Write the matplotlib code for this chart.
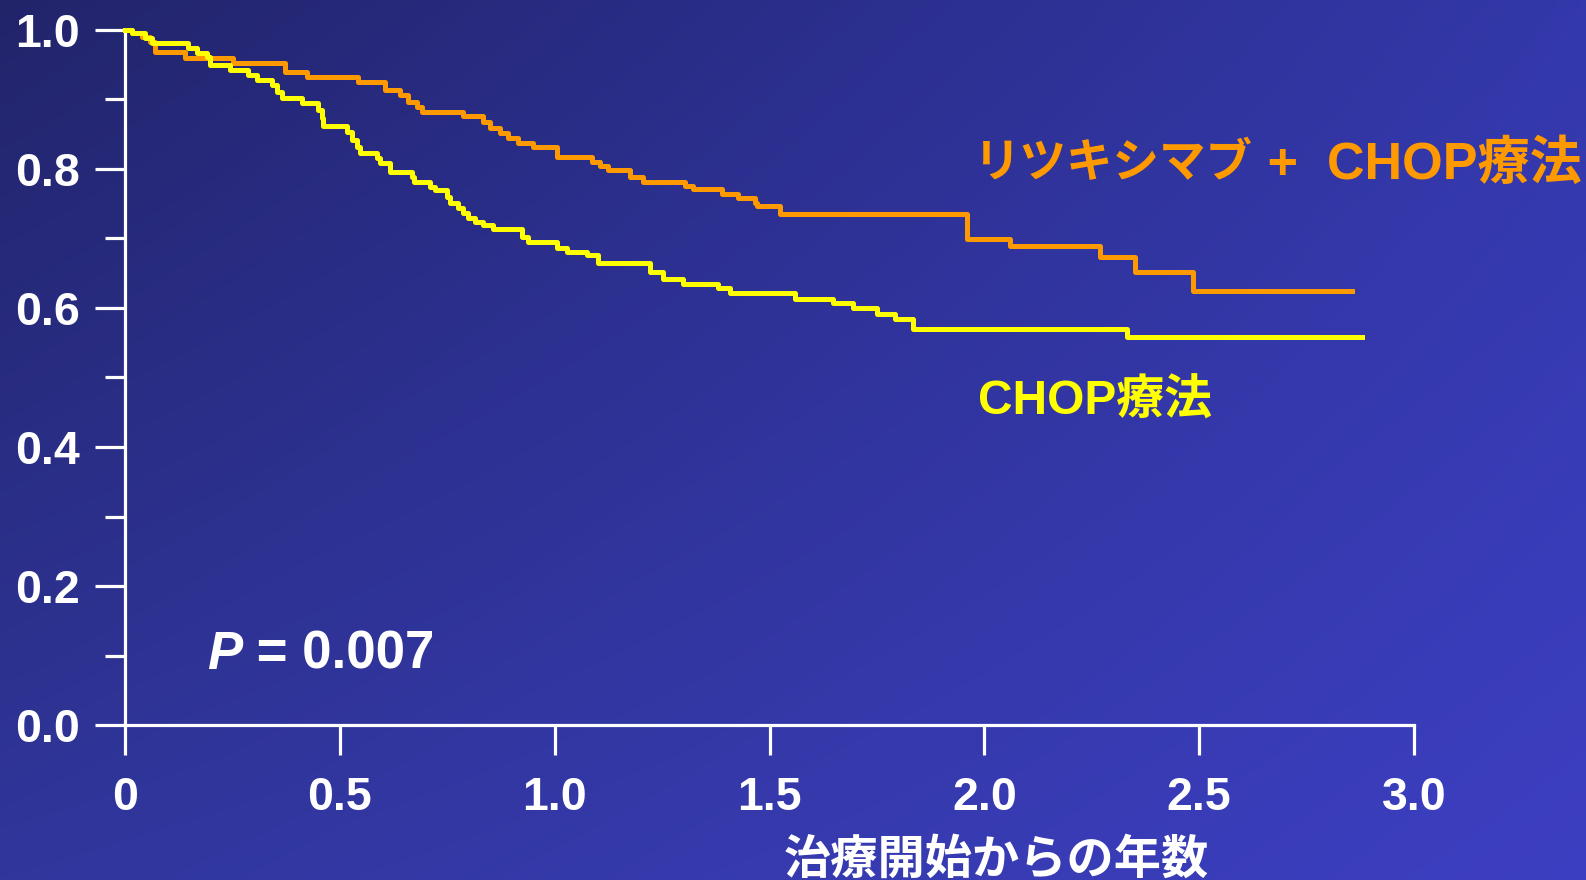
import numpy as np
import matplotlib.pyplot as plt

# Kaplan-Meier style curves (years, survival)
rchop_t = [0, 0.016, 0.040, 0.058, 0.070, 0.140, 0.251, 0.372, 0.424, 0.542,
           0.605, 0.640, 0.659, 0.680, 0.691, 0.787, 0.833, 0.849, 0.873, 0.891,
           0.915, 0.950, 1.005, 1.087, 1.105, 1.124, 1.175, 1.205, 1.303, 1.322,
           1.389, 1.427, 1.466, 1.471, 1.524, 1.960, 2.060, 2.269, 2.350, 2.485,
           2.855]
rchop_s = [1.0, 0.996, 0.990, 0.983, 0.968, 0.960, 0.953, 0.940, 0.932, 0.925,
           0.914, 0.906, 0.896, 0.889, 0.882, 0.876, 0.868, 0.859, 0.852, 0.845,
           0.837, 0.832, 0.817, 0.810, 0.804, 0.799, 0.788, 0.781, 0.776, 0.771,
           0.764, 0.758, 0.751, 0.747, 0.735, 0.699, 0.689, 0.673, 0.652, 0.624,
           0.624]

chop_t = [0, 0.016, 0.047, 0.063, 0.147, 0.168, 0.191, 0.198, 0.244, 0.286,
          0.307, 0.342, 0.354, 0.365, 0.412, 0.449, 0.458, 0.461, 0.517, 0.528,
          0.540, 0.547, 0.586, 0.593, 0.617, 0.668, 0.672, 0.710, 0.721, 0.749,
          0.756, 0.775, 0.787, 0.798, 0.815, 0.833, 0.856, 0.924, 0.938, 1.005,
          1.029, 1.075, 1.101, 1.222, 1.252, 1.299, 1.380, 1.408, 1.559, 1.648,
          1.694, 1.750, 1.792, 1.834, 2.332, 2.879]
chop_s = [1.0, 0.996, 0.988, 0.981, 0.974, 0.967, 0.961, 0.950, 0.942, 0.935,
          0.928, 0.921, 0.911, 0.902, 0.895, 0.885, 0.873, 0.862, 0.853, 0.842,
          0.832, 0.823, 0.816, 0.809, 0.796, 0.788, 0.781, 0.774, 0.770, 0.760,
          0.751, 0.744, 0.737, 0.729, 0.724, 0.719, 0.714, 0.702, 0.695, 0.686,
          0.681, 0.676, 0.665, 0.652, 0.642, 0.635, 0.629, 0.622, 0.613, 0.607,
          0.600, 0.591, 0.584, 0.570, 0.558, 0.558]

xticks = [0, 0.5, 1.0, 1.5, 2.0, 2.5, 3.0]
xticklabels = ['0', '0.5', '1.0', '1.5', '2.0', '2.5', '3.0']
yticks = [0.0, 0.2, 0.4, 0.6, 0.8, 1.0]
yticklabels = ['0.0', '0.2', '0.4', '0.6', '0.8', '1.0']

label_rchop_a = 'リツキシマブ'
label_rchop_b = ' +  CHOP療法'
label_chop = 'CHOP療法'
p_text = '= 0.007'
xlabel = '治療開始からの年数'

orange = '#ff9900'
yellow = '#ffff00'
fonts = ['Liberation Sans', 'Noto Sans CJK JP']

fig = plt.figure(figsize=(15.86, 8.8), dpi=100)

# gradient background (dark navy top-left -> brighter blue bottom-right)
bg = fig.add_axes([0, 0, 1, 1])
bg.set_axis_off()
c_tl = np.array([34, 36, 106]) / 255
c_tr = np.array([51, 56, 170]) / 255
c_bl = np.array([48, 54, 156]) / 255
c_br = np.array([61, 63, 194]) / 255
u = np.linspace(0, 1, 200)[None, :, None]
v = np.linspace(0, 1, 120)[:, None, None]
img = (1 - v) * ((1 - u) * c_tl + u * c_tr) + v * ((1 - u) * c_bl + u * c_br)
bg.imshow(img, aspect='auto', extent=[0, 1, 0, 1], interpolation='bilinear')

ax = fig.add_axes([125 / 1586, 155 / 880, 1289 / 1586, 695 / 880])
ax.patch.set_alpha(0)

ax.step(rchop_t, rchop_s, where='post', color=orange, lw=3.6, clip_on=False, zorder=3)
ax.step(chop_t, chop_s, where='post', color=yellow, lw=3.6, clip_on=False, zorder=4)

ax.set_xlim(0, 3.0)
ax.set_ylim(0, 1.0)
for s in ['top', 'right']:
    ax.spines[s].set_visible(False)
for s in ['left', 'bottom']:
    ax.spines[s].set_color('white')
    ax.spines[s].set_linewidth(2.3)

ax.set_xticks(xticks)
ax.set_xticklabels(xticklabels)
ax.set_yticks(yticks)
ax.set_yticklabels(yticklabels)
ax.set_yticks([0.1, 0.3, 0.5, 0.7, 0.9], minor=True)
ax.tick_params(axis='both', which='major', colors='white', width=2.3, length=21.5,
               labelsize=33.5)
ax.tick_params(axis='y', which='minor', colors='white', width=2.3, length=14.5)
ax.tick_params(axis='y', which='major', pad=11)
ax.tick_params(axis='x', which='major', pad=15)
for lab in ax.get_xticklabels() + ax.get_yticklabels():
    lab.set_fontweight('bold')
    lab.set_family(fonts)

t1 = ax.text(1.975, 0.806, label_rchop_a, color=orange, fontsize=33.5, fontweight='bold',
             family=fonts, ha='left', va='center')
ax.annotate(label_rchop_b, xy=(1, 0.5), xycoords=t1, color=orange, fontsize=37.5,
            fontweight='bold', family=fonts, ha='left', va='center')
ax.text(1.985, 0.465, label_chop, color=yellow, fontsize=34.5, fontweight='bold',
        family=fonts, ha='left', va='center')

tp = ax.text(0.191, 0.101, 'P', color='white', fontsize=38, fontweight='bold',
             fontstyle='italic', family=fonts, ha='left', va='center')
ax.annotate(' ' + p_text, xy=(1, 0.5), xycoords=tp, color='white', fontsize=38,
            fontweight='bold', family=fonts, ha='left', va='center')

ax.text(2.027, -0.194, xlabel, color='white', fontsize=34, fontweight='bold',
        family=['Noto Sans CJK JP'], ha='center', va='center', clip_on=False)

fig.savefig('out.png', dpi=100)
